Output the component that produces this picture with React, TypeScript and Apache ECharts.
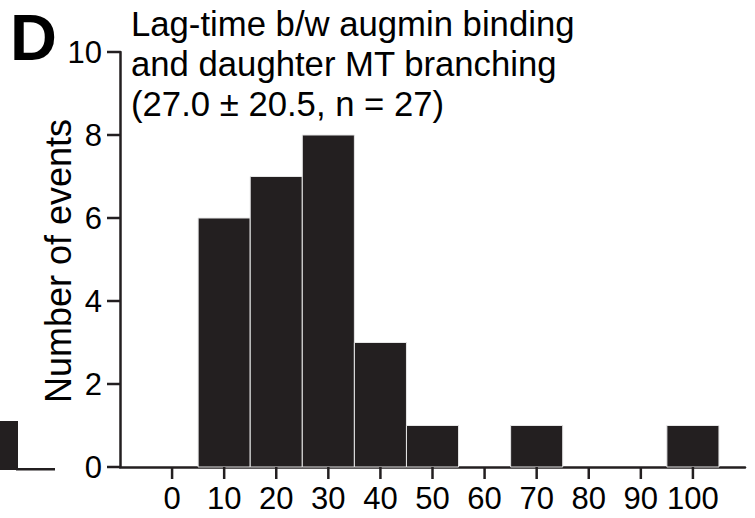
import React, { useEffect, useRef } from "react";
import * as echarts from "echarts";

const binCenters = [0, 10, 20, 30, 40, 50, 60, 70, 80, 90, 100];
const counts = [0, 6, 7, 8, 3, 1, 0, 1, 0, 0, 1];
const binWidth = 10;
const xTicks = [0, 10, 20, 30, 40, 50, 60, 70, 80, 90, 100];
const yTicks = [0, 2, 4, 6, 8, 10];
const xMin = -10;
const xMax = 110;
const yAxisTitle = "Number of events";
const titleLines = [
  "Lag-time b/w augmin binding",
  "and daughter MT branching",
  "(27.0 ± 20.5, n = 27)",
];
const INK = "#231f20";
const FONT = "Liberation Sans, Arial, sans-serif";

export default function App() {
  const ref = useRef<HTMLDivElement>(null);
  useEffect(() => {
    if (!ref.current) return;
    const chart = echarts.init(ref.current, null, { renderer: "svg" });
    const data = binCenters.map((c, i) => [c, counts[i]]);
    chart.setOption({
      animation: false,
      backgroundColor: "#ffffff",
      grid: { left: 120, right: 10, top: 52, bottom: 51 },
      xAxis: {
        type: "value",
        min: xMin,
        max: xMax,
        splitLine: { show: false },
        axisLine: { show: true, onZero: false, lineStyle: { color: INK, width: 2.5 } },
        axisTick: { show: false },
        axisLabel: {
          customValues: xTicks,
          color: "#000",
          fontSize: 31,
          fontFamily: FONT,
          margin: 16,
        },
      },
      yAxis: {
        type: "value",
        min: 0,
        max: 10,
        interval: 2,
        splitLine: { show: false },
        axisLine: { show: true, onZero: false, lineStyle: { color: INK, width: 2.5 } },
        axisTick: { show: false },
        axisLabel: { color: "#000", fontSize: 31, fontFamily: FONT, margin: 18 },
      },
      graphic: [
        {
          type: "text",
          left: 10,
          top: 5,
          style: { text: "D", font: `bold 65px ${FONT}`, fill: "#000" },
        },
        {
          type: "text",
          left: 131,
          top: 4,
          style: {
            text: titleLines.join("\n"),
            font: `34.7px ${FONT}`,
            lineHeight: 40,
            fill: "#000",
          },
        },
        {
          type: "text",
          x: 58,
          y: 261,
          rotation: Math.PI / 2,
          style: {
            text: yAxisTitle,
            font: `36px ${FONT}`,
            fill: "#000",
            align: "center",
            verticalAlign: "middle",
            textAlign: "center",
            textVerticalAlign: "middle",
          },
        },
        {
          type: "rect",
          shape: { x: 0, y: 421, width: 18, height: 49 },
          style: { fill: INK },
        },
        {
          type: "rect",
          shape: { x: 16, y: 468, width: 39, height: 2.5 },
          style: { fill: INK },
        },
      ],
      series: [
        {
          type: "custom",
          clip: false,
          data,
          renderItem: (params: any, api: any) => {
            const c = api.value(0);
            const v = api.value(1);
            if (!v) return null;
            const p0 = api.coord([c - binWidth / 2, 0]);
            const p1 = api.coord([c + binWidth / 2, v]);
            return {
              type: "rect",
              shape: { x: p0[0], y: p1[1], width: p1[0] - p0[0], height: p0[1] - p1[1] },
              style: { fill: INK, stroke: "#e6e6e6", lineWidth: 1 },
            };
          },
        },
        {
          type: "custom",
          clip: false,
          silent: true,
          data: xTicks.map((t) => [t, 1]),
          renderItem: (params: any, api: any) => {
            const p = api.coord([api.value(0), 0]);
            return {
              type: "rect",
              shape: { x: p[0] - 1.25, y: p[1], width: 2.5, height: 12 },
              style: { fill: INK },
            };
          },
        },
        {
          type: "custom",
          clip: false,
          silent: true,
          data: yTicks.map((t) => [xMin, t]),
          renderItem: (params: any, api: any) => {
            const p = api.coord([xMin, api.value(1)]);
            return {
              type: "rect",
              shape: { x: p[0] - 13, y: p[1] - 1.25, width: 13, height: 2.5 },
              style: { fill: INK },
            };
          },
        },
      ],
    });
    return () => chart.dispose();
  }, []);
  return <div ref={ref} style={{ width: 755, height: 518, position: "fixed", left: 0, top: 0 }} />;
}
